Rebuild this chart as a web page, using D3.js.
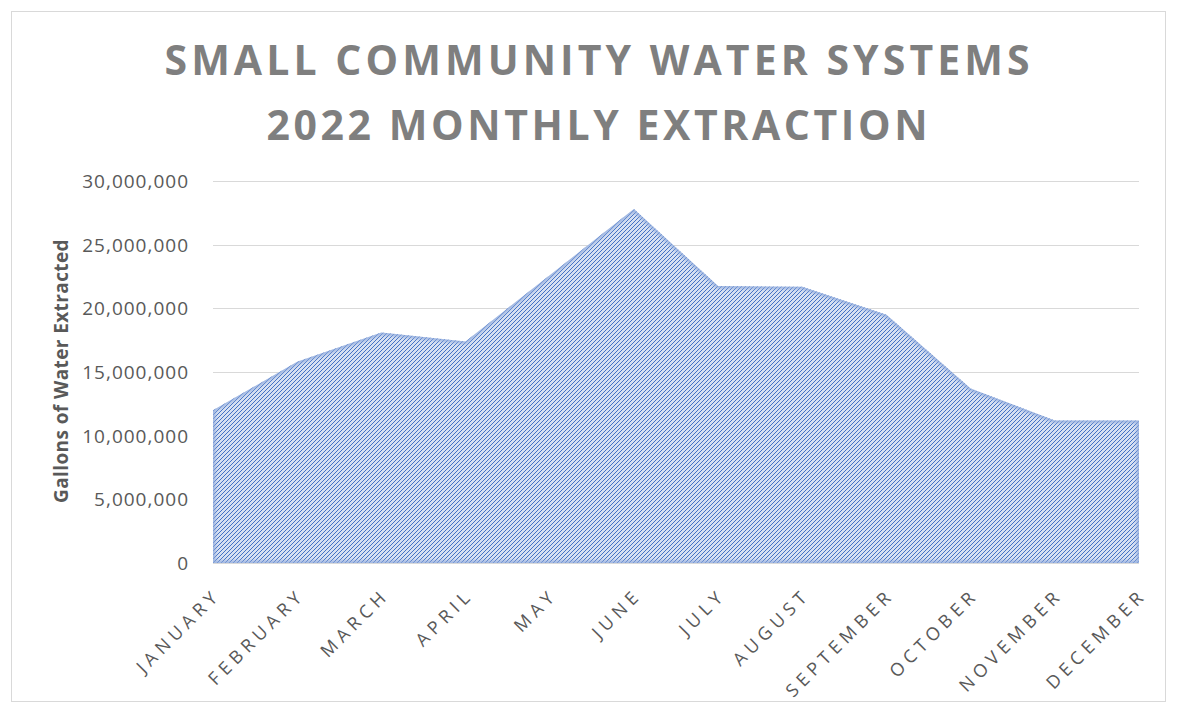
<!DOCTYPE html>
<html>
<head>
<meta charset="utf-8">
<script src="https://cdn.jsdelivr.net/npm/d3@7"></script>
<style>
  body { margin: 0; background: #ffffff; }
  svg { display: block; }
</style>
</head>
<body>
<div id="chart"></div>
<script>
// chart data
var months = ["JANUARY", "FEBRUARY", "MARCH", "APRIL", "MAY", "JUNE",
  "JULY", "AUGUST", "SEPTEMBER", "OCTOBER", "NOVEMBER", "DECEMBER"];
var gallons = [12000000, 15800000, 18100000, 17400000, 22600000, 27800000,
  21750000, 21700000, 19500000, 13700000, 11200000, 11200000];
var yTicks = [0, 5000000, 10000000, 15000000, 20000000, 25000000, 30000000];
var titleLines = ["SMALL COMMUNITY WATER SYSTEMS", "2022 MONTHLY EXTRACTION"];
var yTitle = "Gallons of Water Extracted";

function init() {
  var w = 1177;
  var h = 713;
  var left = 213, right = 1139, top = 181, bottom = 563;

  var svg = d3.select("#chart")
    .append("svg")
    .attr("width", w)
    .attr("height", h);

  // outer chart frame
  svg.append("rect")
    .attr("x", 11.5)
    .attr("y", 11.5)
    .attr("width", 1154)
    .attr("height", 690)
    .attr("fill", "#ffffff")
    .attr("stroke", "#d9d9d9")
    .attr("stroke-width", 1);

  // stripe pattern used for the area fill (pixel diagonal, 4px period)
  var defs = svg.append("defs");
  var pat = defs.append("pattern")
    .attr("id", "stripes")
    .attr("patternUnits", "userSpaceOnUse")
    .attr("width", 4)
    .attr("height", 4);
  pat.append("rect")
    .attr("width", 4)
    .attr("height", 4)
    .attr("fill", "#d6e0f2");
  pat.selectAll("rect.px")
    .data([0, 1, 2, 3])
    .enter()
    .append("rect")
    .attr("class", "px")
    .attr("x", function (d) { return d; })
    .attr("y", function (d) { return 3 - d; })
    .attr("width", 1)
    .attr("height", 1)
    .attr("shape-rendering", "crispEdges")
    .attr("fill", "#4472c4");

  var blur = defs.append("filter")
    .attr("id", "soft")
    .attr("x", "-5%").attr("y", "-5%")
    .attr("width", "110%").attr("height", "110%");
  blur.append("feGaussianBlur").attr("stdDeviation", 1.5);

  var clip = defs.append("clipPath").attr("id", "areaClip");

  var x = d3.scalePoint()
    .domain(months)
    .range([left, right]);

  var y = d3.scaleLinear()
    .domain([0, 30000000])
    .range([bottom, top]);

  // gridlines
  svg.append("g")
    .selectAll("line")
    .data(yTicks)
    .enter()
    .append("line")
    .attr("x1", left)
    .attr("x2", right)
    .attr("y1", function (d) { return Math.round(y(d)) + 0.5; })
    .attr("y2", function (d) { return Math.round(y(d)) + 0.5; })
    .attr("stroke", "#d9d9d9")
    .attr("stroke-width", 1.2);

  // y axis labels
  var fmt = d3.format(",");
  svg.append("g")
    .selectAll("text")
    .data(yTicks)
    .enter()
    .append("text")
    .attr("x", 189)
    .attr("y", function (d) { return y(d) + 7; })
    .attr("text-anchor", "end")
    .style("font-family", "'Open Sans', sans-serif")
    .style("font-size", "19px")
    .style("letter-spacing", "1px")
    .style("fill", "#595959")
    .text(function (d) { return fmt(d); });

  // area
  var area = d3.area()
    .x(function (d, i) { return x(months[i]); })
    .y0(y(0))
    .y1(function (d) { return y(d); });

  clip.append("path")
    .datum(gallons)
    .attr("d", area);

  svg.append("path")
    .datum(gallons)
    .attr("d", area)
    .attr("fill", "url(#stripes)");

  // soft inner edge
  svg.append("path")
    .datum(gallons)
    .attr("d", area)
    .attr("fill", "none")
    .attr("stroke", "#8faadc")
    .attr("stroke-width", 5)
    .attr("stroke-opacity", 0.8)
    .attr("filter", "url(#soft)")
    .attr("clip-path", "url(#areaClip)");

  // month labels
  svg.append("g")
    .selectAll("text")
    .data(months)
    .enter()
    .append("text")
    .attr("transform", function (d) {
      return "translate(" + (x(d) + 9) + ",596) rotate(-45)";
    })
    .attr("text-anchor", "end")
    .style("font-family", "'Open Sans', sans-serif")
    .style("font-size", "18px")
    .style("letter-spacing", "5px")
    .style("fill", "#595959")
    .text(function (d) { return d; });

  // y axis title
  svg.append("text")
    .attr("transform", "translate(68,371) rotate(-90)")
    .attr("text-anchor", "middle")
    .style("font-family", "'Open Sans', sans-serif")
    .style("font-size", "19px")
    .style("letter-spacing", "0.4px")
    .style("font-weight", "bold")
    .style("fill", "#595959")
    .text(yTitle);

  // title
  svg.append("g")
    .selectAll("text")
    .data(titleLines)
    .enter()
    .append("text")
    .attr("x", 597)
    .attr("y", function (d, i) { return 75 + i * 65; })
    .attr("text-anchor", "middle")
    .attr("textLength", function (d, i) { return i === 0 ? 865 : 661; })
    .attr("lengthAdjust", "spacing")
    .style("font-family", "'Open Sans', sans-serif")
    .style("font-size", "41px")
    .style("font-weight", "bold")
    .style("fill", "#7f7f7f")
    .text(function (d) { return d; });
}

window.onload = init;
</script>
</body>
</html>
